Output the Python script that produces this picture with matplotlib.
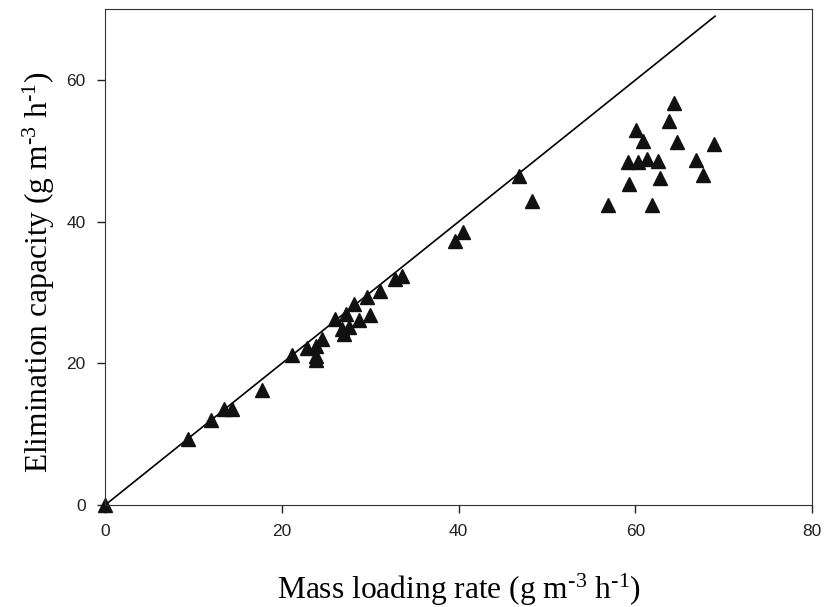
import numpy as np
import matplotlib.pyplot as plt

plt.rcParams['mathtext.fontset'] = 'custom'
plt.rcParams['mathtext.rm'] = 'Liberation Serif'
plt.rcParams['mathtext.default'] = 'regular'

# mass loading rate vs elimination capacity (g m-3 h-1)
mlr = [0.0, 9.4, 12.0, 13.4, 14.4, 17.8, 21.1, 22.8, 23.8, 24.5, 23.9, 23.9,
       26.0, 26.8, 27.0, 27.3, 27.6, 28.2, 28.7, 29.6, 30.0, 31.1, 32.8, 33.6,
       39.6, 40.5, 46.8, 48.3,
       56.9, 59.1, 59.3, 60.1, 60.3, 60.8, 61.3, 61.9, 62.6, 62.8, 63.8, 64.4,
       64.7, 66.8, 67.6, 68.9]
ec = [0.0, 9.3, 12.0, 13.5, 13.5, 16.2, 21.2, 22.1, 22.5, 23.5, 21.1, 20.5,
      26.2, 24.9, 24.2, 26.9, 25.1, 28.4, 26.1, 29.3, 26.8, 30.2, 31.9, 32.3,
      37.2, 38.6, 46.4, 42.9,
      42.4, 48.4, 45.3, 52.9, 48.4, 51.4, 48.8, 42.4, 48.6, 46.2, 54.2, 56.8,
      51.3, 48.7, 46.6, 50.9]
line_x = [0, 69]

fig = plt.figure(figsize=(8.28, 6.07), dpi=100)
ax = fig.add_axes([0.127, 0.168, 0.854, 0.817])

ax.plot(line_x, line_x, color='black', linewidth=1.2)
ax.plot(mlr, ec, linestyle='none', marker='^', markersize=9.5,
        color='#111111', clip_on=False)

ax.set_xlim(0, 80)
ax.set_ylim(0, 70)
ax.set_xticks([0, 20, 40, 60, 80])
ax.set_yticks([0, 20, 40, 60])
ax.tick_params(direction='out', length=6, width=1, labelsize=12.5,
               colors='#222222', pad=8)
for lab in ax.get_xticklabels() + ax.get_yticklabels():
    lab.set_family('Liberation Sans')
for s in ax.spines.values():
    s.set_color('#333333')

ax.set_xlabel(r'Mass loading rate (g m$^{\text{-3}}$ h$^{\text{-1}}$)',
              family='Liberation Serif', fontsize=22.7, labelpad=23)
ax.set_ylabel(r'Elimination capacity (g m$^{\text{-3}}$ h$^{\text{-1}}$)',
              family='Liberation Serif', fontsize=22.7)
ax.yaxis.set_label_coords(-0.068, 0.47)

fig.savefig('out.png', dpi=100)
